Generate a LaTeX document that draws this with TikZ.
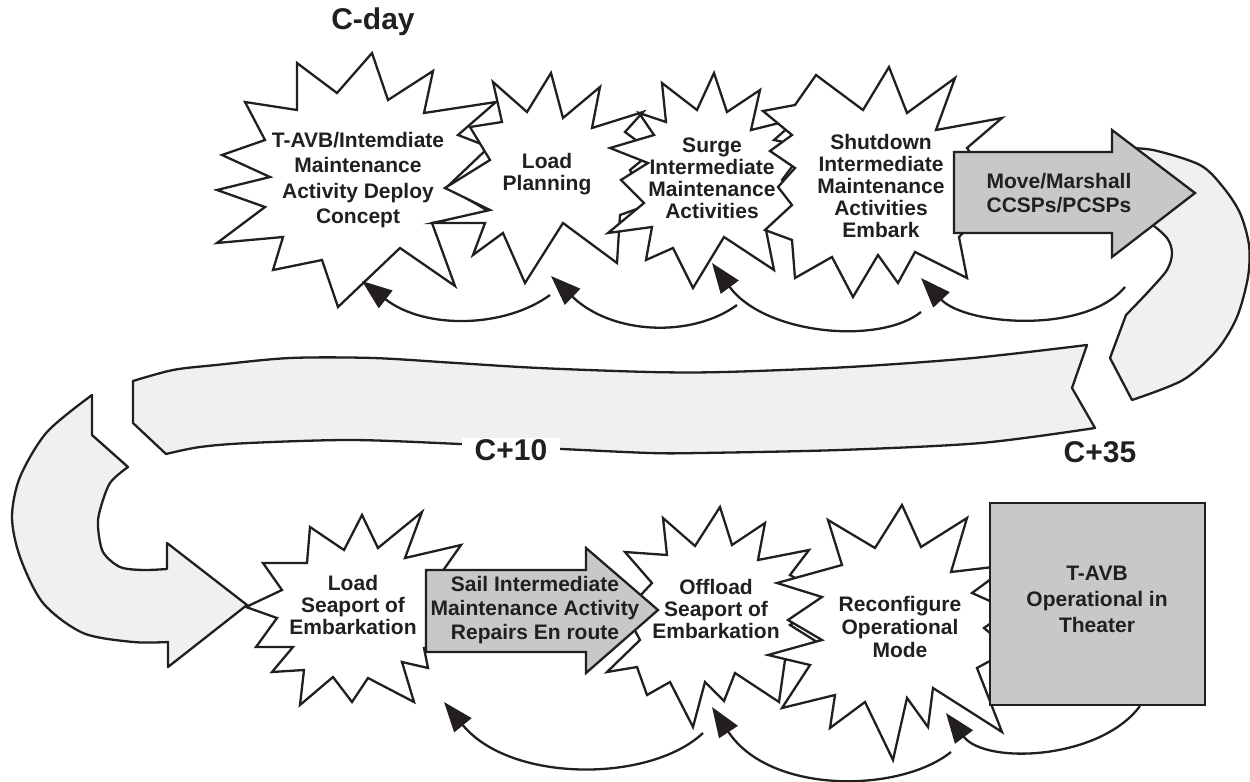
\documentclass[tikz,border=0pt]{standalone}
\usepackage{fontspec}
\setmainfont{Liberation Sans}
\usetikzlibrary{arrows.meta}
\definecolor{ink}{RGB}{35,31,32}
\definecolor{boxgray}{RGB}{199,200,202}
\definecolor{bandgray}{RGB}{239,241,240}
\tikzset{
  outline/.style={draw=ink, line width=1.15pt, line join=miter, miter limit=12},
  burst/.style={outline, fill=white},
  block/.style={outline, fill=boxgray},
  band/.style={draw=ink, line width=1.15pt, line join=round, fill=bandgray},
  caption/.style={text=ink, font=\bfseries\fontsize{10.5}{11}\selectfont, align=center, inner sep=0pt},
  daylabel/.style={text=ink, font=\bfseries\fontsize{15}{16}\selectfont, inner sep=1.5pt},
  loopback/.style={draw=ink, line width=1.15pt, -{Triangle[length=15pt,width=11pt]}},
}
\begin{document}
\begin{tikzpicture}[x=0.5pt,y=-0.5pt]
\useasboundingbox (0,0) rectangle (1250,782);

% ---------- wide return bands ----------
% right hook from the Move/Marshall arrow down into the middle band
\path[band] plot[smooth] coordinates {(1120,148) (1153,150) (1200,165) (1223,187) (1240,213) (1249,245) (1248,277) (1237,317) (1217,350) (1183,380) (1132,400)}
  -- (1110,358) -- plot[smooth] coordinates {(1126,315) (1148,292) (1167,270) (1172,253) (1167,238) (1148,222) (1125,215)} -- cycle;
% long middle band
\path[band] plot[smooth] coordinates {(133,381) (173,370) (216,365) (290,358) (373,358) (456,363) (539,368) (650,372) (724,372) (849,367) (973,358) (1087,345)}
  -- (1072,388) -- plot[smooth] coordinates {(1095,428) (981,443) (840,450) (700,453) (650,453) (562,449) (460,444) (352,440) (249,443) (200,447) (166,454)}
  -- (133,423) -- cycle;
% left hook ending in an arrow head
\path[band] (92,395) -- (92,435) -- plot[smooth] coordinates {(128,467) (110,483) (100,510) (98,527) (103,552) (120,567) (143,570) (167,569)}
  -- (167,543) -- (247,605) -- (168,667) -- plot[smooth] coordinates {(168,642) (133,642) (83,633) (43,603) (20,557) (12,517) (20,477) (47,432) (92,395)} -- cycle;

% ---------- milestone labels ----------
\node[daylabel] (cday) at (373,22) {C-day};
\node[daylabel, fill=white, inner xsep=6.5pt, inner ysep=0.5pt] (c10) at (511,450) {C+10};
\node[daylabel] (c35) at (1100,452) {C+35};

% ---------- upper row ----------
\path[burst] (372,53) -- (388,100) -- (433,71) -- (424,113) -- (496,102) -- (458,135) -- (489,147) -- (447,187) -- (490,212) -- (432,223) -- (455,286) -- (400,248) -- (338,307) -- (322,260) -- (273,270) -- (283,237) -- (217,243) -- (265,207) -- (217,190) -- (270,177) -- (222,155) -- (265,140) -- (245,102) -- (297,110) -- (297,63) -- (337,93) -- cycle;
\path[burst] (493,82) -- (527,112) -- (551,73) -- (563,118) -- (600,87) -- (592,128) -- (643,112) -- (625,132) -- (652,152) -- (630,170) -- (648,205) -- (620,215) -- (617,263) -- (563,223) -- (525,283) -- (503,233) -- (473,255) -- (485,223) -- (433,223) -- (490,210) -- (445,188) -- (490,160) -- (470,127) -- (502,122) -- cycle;
\path[burst] (662,83) -- (697,110) -- (714,73) -- (727,112) -- (760,90) -- (751,130) -- (799,118) -- (774,140) -- (807,147) -- (782,180) -- (816,210) -- (766,230) -- (774,270) -- (724,237) -- (693,288) -- (673,248) -- (646,260) -- (652,227) -- (608,233) -- (644,203) -- (621,180) -- (648,163) -- (610,148) -- (654,135) -- (639,113) -- (666,122) -- cycle;
\path[burst] (816,75) -- (863,110) -- (889,67) -- (907,113) -- (955,78) -- (936,130) -- (1002,118) -- (967,148) -- (1000,195) -- (959,237) -- (967,278) -- (915,252) -- (898,283) -- (878,255) -- (853,297) -- (832,257) -- (795,278) -- (792,240) -- (765,230) -- (792,205) -- (778,187) -- (795,168) -- (770,151) -- (792,135) -- (763,111) -- (795,105) -- cycle;
\path[block] (954,152) -- (1112,152) -- (1112,130) -- (1195,193) -- (1112,257) -- (1112,233) -- (954,233) -- cycle;

% ---------- lower row ----------
\path[burst] (362,515) -- (378,548) -- (422,512) -- (405,558) -- (461,545) -- (442,572) -- (470,600) -- (440,620) -- (455,640) -- (424,648) -- (428,668) -- (402,662) -- (414,702) -- (368,678) -- (352,702) -- (333,677) -- (300,705) -- (304,670) -- (272,672) -- (293,647) -- (256,647) -- (277,618) -- (246,607) -- (282,590) -- (263,563) -- (307,563) -- (310,527) -- (344,550) -- cycle;
\path[burst] (625,552) -- (667,555) -- (663,518) -- (695,546) -- (720,507) -- (732,545) -- (765,523) -- (758,560) -- (809,550) -- (790,575) -- (830,598) -- (790,625) -- (825,647) -- (785,660) -- (779,702) -- (735,673) -- (724,701) -- (705,682) -- (693,727) -- (670,682) -- (647,695) -- (637,667) -- (607,672) -- (640,640) -- (625,612) -- (652,583) -- cycle;
\path[block] (426,570) -- (586,570) -- (586,548) -- (658,610) -- (586,673) -- (586,652) -- (426,652) -- cycle;
\path[burst] (828,520) -- (875,548) -- (902,505) -- (921,547) -- (967,518) -- (951,572) -- (1010,565) -- (972,593) -- (1010,610) -- (984,628) -- (1010,650) -- (977,668) -- (1002,732) -- (933,688) -- (928,727) -- (907,698) -- (893,760) -- (865,702) -- (830,728) -- (835,695) -- (782,708) -- (810,665) -- (768,655) -- (822,640) -- (788,620) -- (822,597) -- (777,583) -- (842,565) -- cycle;
\path[block] (990,503) rectangle (1205,705);

% ---------- step texts ----------
\node[caption, font=\bfseries\fontsize{10.5}{12.6}\selectfont] (deploy) at (358,180) {T-AVB/Intemdiate\\Maintenance\\Activity Deploy\\Concept};
\node[caption] (loadplan) at (547,174) {Load\\Planning};
\node[caption] (surge) at (712,178) {Surge\\Intermediate\\Maintenance\\Activities};
\node[caption] (shutdown) at (881,186) {Shutdown\\Intermediate\\Maintenance\\Activities\\Embark};
\node[caption, font=\bfseries\fontsize{10.5}{11.6}\selectfont] (move) at (1059,193) {Move/Marshall\\CCSPs/PCSPs};
\node[caption] (loadsea) at (353,605) {Load\\Seaport of\\Embarkation};
\node[caption, font=\bfseries\fontsize{10.5}{12}\selectfont] (sail) at (535,610) {Sail Intermediate\\Maintenance Activity\\Repairs En route};
\node[caption] (offload) at (716,609) {Offload\\Seaport of\\Embarkation};
\node[caption, font=\bfseries\fontsize{10.5}{11.7}\selectfont] (reconf) at (900,627) {Reconfigure\\Operational\\Mode};
\node[caption, font=\bfseries\fontsize{10.5}{13}\selectfont] (theater) at (1097,599) {T-AVB\\Operational in\\Theater};

% ---------- feedback loops between steps ----------
\coordinate (u1s) at (550,295);  \coordinate (u1e) at (362,281);
\coordinate (u2s) at (737,305);  \coordinate (u2e) at (551,276);
\coordinate (u3s) at (921,312);  \coordinate (u3e) at (712,263);
\coordinate (u4s) at (1125,287); \coordinate (u4e) at (921,278);
\coordinate (l1s) at (703,733);  \coordinate (l1e) at (444,702);
\coordinate (l2s) at (951,752);  \coordinate (l2e) at (712,707);
\coordinate (l3s) at (1140,706); \coordinate (l3e) at (946,713);
\draw[loopback] (u1s) .. controls (505,328) and (425,330) .. (u1e);
\draw[loopback] (u2s) .. controls (692,338) and (612,335) .. (u2e);
\draw[loopback] (u3s) .. controls (880,345) and (765,335) .. (u3e);
\draw[loopback] (u4s) .. controls (1085,335) and (965,325) .. (u4e);
\draw[loopback] (l1s) .. controls (650,783) and (510,783) .. (l1e);
\draw[loopback] (l2s) .. controls (900,793) and (770,795) .. (l2e);
\draw[loopback] (l3s) .. controls (1100,760) and (985,765) .. (l3e);
\end{tikzpicture}
\end{document}
